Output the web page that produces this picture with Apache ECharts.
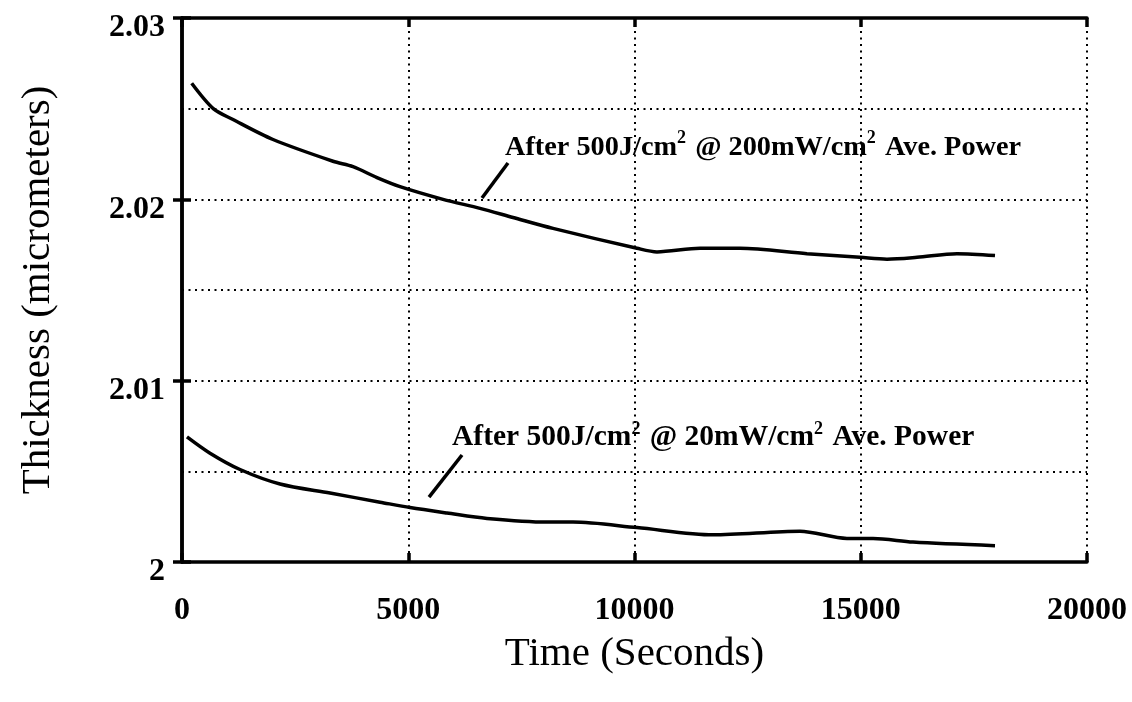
<!DOCTYPE html>
<html>
<head>
<meta charset="utf-8">
<script src="https://cdn.jsdelivr.net/npm/echarts@6/dist/echarts.min.js"></script>
<style>
  html, body { margin: 0; padding: 0; background: #fff; }
  #chart { width: 1132px; height: 702px; }
</style>
</head>
<body>
<div id="chart"></div>
<script>
// Film thickness relaxation after exposure (time in seconds, thickness in micrometers)
const highPowerTime = [214, 692, 1127, 2011, 3337, 3779, 4309, 4818, 5768, 6586, 7315, 8199, 10055, 10497, 11448, 12331, 13812, 14983, 15580, 16243, 17127, 17967];
const highPowerThickness = [2.0264, 2.0250, 2.0244, 2.0233, 2.0221, 2.0218, 2.0212, 2.0207, 2.0200, 2.0195, 2.0190, 2.0184, 2.0173, 2.0171, 2.0173, 2.0173, 2.0170, 2.0168, 2.0167, 2.0168, 2.0170, 2.0169];

const lowPowerTime = [110, 619, 1282, 2166, 3271, 4376, 5039, 5856, 6740, 8066, 8641, 10055, 11735, 13657, 14696, 15271, 16155, 17967];
const lowPowerThickness = [2.0069, 2.0060, 2.0051, 2.0043, 2.0038, 2.0033, 2.0030, 2.0027, 2.0024, 2.0022, 2.0022, 2.0019, 2.0015, 2.0017, 2.0013, 2.0013, 2.0011, 2.0009];

const xTicks = [0, 5000, 10000, 15000, 20000];
const yTickLabels = ['2', '2.01', '2.02', '2.03'];

// Callout text anchors and leader lines, in data coordinates
const highPowerNote = { at: [7138, 2.02295], line: [[7204, 2.02200], [6630, 2.02007]], label: ['After 500J/cm', '2', ' @ 200mW/cm', '2', ' Ave. Power'], size: 28.3 };
const lowPowerNote = { at: [5967, 2.00695], line: [[6188, 2.00590], [5459, 2.00358]], label: ['After 500J/cm', '2', ' @ 20mW/cm', '2', ' Ave. Power'], size: 29.5 };

const serif = '"Liberation Serif", "DejaVu Serif", serif';

function pairs(xs, ys) { return xs.map((x, i) => [x, ys[i]]); }

function richLabel(parts) {
  return parts.map((p, i) => (i % 2 === 1 ? '{s|' + p + '}' : '{t|' + p + '}')).join('');
}

function note(n) {
  return {
    markLine: {
      silent: true,
      symbol: ['none', 'none'],
      lineStyle: { color: '#000', width: 3.5, type: 'solid' },
      label: { show: false },
      data: [[{ coord: n.line[0] }, { coord: n.line[1] }]]
    },
    markPoint: {
      silent: true,
      symbol: 'circle',
      symbolSize: 0,
      data: [{ coord: n.at }],
      label: {
        show: true,
        position: 'right',
        distance: 0,
        formatter: richLabel(n.label),
        rich: {
          t: { fontFamily: serif, fontWeight: 'bold', fontSize: n.size, color: '#000', verticalAlign: 'bottom', lineHeight: 32 },
          s: { fontFamily: serif, fontWeight: 'bold', fontSize: 18, color: '#000', verticalAlign: 'top', lineHeight: 14, padding: [0, 2, 0, 0] }
        }
      }
    }
  };
}

const chart = echarts.init(document.getElementById('chart'), null, { renderer: 'canvas' });

const boxAxisLine = { show: true, lineStyle: { color: '#000', width: 3.5 } };
const inwardTick = { show: true, inside: true, length: 9, lineStyle: { color: '#000', width: 3.5 } };
const dotted = { show: true, lineStyle: { color: '#000', width: 2, type: [2, 4.5] } };

chart.setOption({
  backgroundColor: '#fff',
  animation: false,
  grid: { left: 182, right: 45, top: 18, bottom: 140 },
  xAxis: [{
    type: 'value',
    min: xTicks[0],
    max: xTicks[xTicks.length - 1],
    interval: 5000,
    axisLine: boxAxisLine,
    axisTick: inwardTick,
    splitLine: dotted,
    axisLabel: {
      margin: 33,
      fontFamily: serif, fontWeight: 'bold', fontSize: 32, color: '#000',
      formatter: v => (xTicks.includes(v) ? String(v) : '')
    },
    name: 'Time (Seconds)',
    nameLocation: 'middle',
    nameGap: 72,
    nameTextStyle: { fontFamily: serif, fontSize: 41, color: '#000' }
  }, {
    type: 'value',
    position: 'top',
    min: xTicks[0],
    max: xTicks[xTicks.length - 1],
    interval: 5000,
    axisLine: boxAxisLine,
    axisTick: inwardTick,
    axisLabel: { show: false },
    splitLine: { show: false }
  }],
  yAxis: [{
    type: 'value',
    min: 2.0,
    max: 2.03,
    interval: 0.01,
    axisLine: boxAxisLine,
    axisTick: inwardTick,
    splitLine: dotted,
    minorTick: { show: false, splitNumber: 2 },
    minorSplitLine: dotted,
    axisLabel: {
      margin: 17,
      verticalAlign: 'top',
      lineHeight: 20,
      fontFamily: serif, fontWeight: 'bold', fontSize: 32, color: '#000',
      formatter: v => yTickLabels[Math.round((v - 2.0) * 100)] || ''
    },
    name: 'Thickness (micrometers)',
    nameLocation: 'middle',
    nameGap: 123,
    nameRotate: 90,
    nameTextStyle: { fontFamily: serif, fontSize: 41, color: '#000' }
  }, {
    type: 'value',
    position: 'right',
    min: 2.0,
    max: 2.03,
    interval: 0.01,
    axisLine: boxAxisLine,
    axisTick: inwardTick,
    axisLabel: { show: false },
    splitLine: { show: false }
  }],
  series: [
    Object.assign({
      name: '200 mW/cm2',
      type: 'line',
      data: pairs(highPowerTime, highPowerThickness),
      smooth: 0.3,
      showSymbol: false,
      lineStyle: { color: '#000', width: 3.5 },
      z: 5
    }, note(highPowerNote)),
    Object.assign({
      name: '20 mW/cm2',
      type: 'line',
      data: pairs(lowPowerTime, lowPowerThickness),
      smooth: 0.3,
      showSymbol: false,
      lineStyle: { color: '#000', width: 3.5 },
      z: 5
    }, note(lowPowerNote))
  ]
});
</script>
</body>
</html>
